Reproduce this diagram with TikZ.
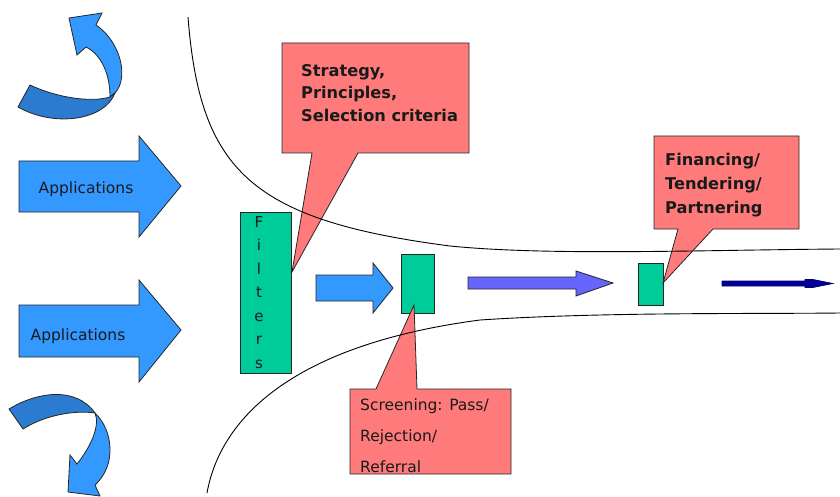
\documentclass[tikz,border=0pt]{standalone}
\usepackage{fontspec}
\setmainfont{DejaVu Sans}
\definecolor{lblue}{HTML}{3399FF}
\definecolor{dblue}{HTML}{2B7BD0}
\definecolor{fgreen}{HTML}{00CC99}
\definecolor{callred}{HTML}{FF7B7B}
\definecolor{purp}{HTML}{6666FF}
\definecolor{navy}{HTML}{000099}
\definecolor{txt}{HTML}{1A1A1A}
\tikzset{
  outl/.style={draw=black!85, line width=0.8pt, line join=miter},
  greenbox/.style={outl, fill=fgreen, rectangle, inner sep=0pt},
  callout/.style={outl, fill=callred},
  blockarrow/.style={outl, fill=lblue},
  boldtxt/.style={anchor=north west, inner sep=0pt, align=left, text=txt, font=\bfseries\fontsize{16.2}{22.5}\selectfont},
  plaintxt/.style={inner sep=0pt, text=txt, font=\fontsize{15.5}{18}\selectfont},
  curve/.style={draw=black, line width=0.9pt}
}
\begin{document}
\begin{tikzpicture}[x=1pt,y=-1pt]
\useasboundingbox (0,0) rectangle (840,497);

% curly arrow top
\draw[outl, fill=lblue] (69,18) -- (102,13) -- (96,25) .. controls (121,42) and (129,78) .. (115,93) -- (110,97) .. controls (110,75) and (102,55) .. (86,47) -- (77,55) -- cycle;
\draw[outl, fill=dblue] (30,85) .. controls (55,97) and (90,103) .. (110,97) -- (115,93) .. controls (105,120) and (55,128) .. (18,107) -- cycle;

% curly arrow bottom
\draw[outl, fill=lblue] (95,413) .. controls (113,430) and (117,465) .. (95,485) -- (100,496) -- (68,492) -- (70,455) -- (77,464) .. controls (92,445) and (100,425) .. (95,413) -- cycle;
\draw[outl, fill=dblue] (9,409) .. controls (35,393) and (75,385) .. (95,413) .. controls (75,410) and (45,415) .. (23,429) -- cycle;

% big arrows
\draw[blockarrow] (19,161) -- (139,161) -- (139,136) -- (181,186) -- (139,237) -- (139,212) -- (19,212) -- cycle;
\draw[blockarrow] (19,305) -- (139,305) -- (139,280) -- (181,330) -- (139,382) -- (139,357) -- (19,357) -- cycle;
\node[plaintxt] (app1) at (86,189) {Applications};
\node[plaintxt] (app2) at (78,336) {Applications};

% green boxes
\node[greenbox, minimum width=51pt, minimum height=161pt] (filters) at (265.5,292.5) {};
\node[anchor=north, align=center, inner sep=0pt, text=txt, font=\fontsize{15}{23.5}\selectfont] (filterstxt) at (259,216) {F\\i\\l\\t\\e\\r\\s};
\node[greenbox, minimum width=33pt, minimum height=59pt] (screenbox) at (417.5,283.5) {};
\node[greenbox, minimum width=25pt, minimum height=42pt] (finbox) at (650.5,284) {};

% flow arrows
\draw[blockarrow] (316,275) -- (373,275) -- (373,263) -- (393,288) -- (373,313) -- (373,301) -- (316,301) -- cycle;
\draw[outl, fill=purp] (468,277) -- (576,277) -- (576,271) -- (613,283) -- (576,296) -- (576,289) -- (468,289) -- cycle;
\draw[draw=navy!70!black, line width=0.6pt, fill=navy] (722,281) -- (805,281) -- (805,279.5) -- (813,279.5) -- (833,283.5) -- (813,287.5) -- (805,287.5) -- (805,286) -- (722,286) -- cycle;

% callouts
\draw[callout] (282,43) -- (469,43) -- (469,153) -- (358,153) -- (292,272) -- (312,153) -- (282,153) -- cycle;
\node[boldtxt] (strat) at (301,64) {Strategy,\\Principles,\\Selection criteria};

\draw[callout] (654,136) -- (799,136) -- (799,229) -- (713,229) -- (663,283) -- (678,229) -- (654,229) -- cycle;
\node[boldtxt, font=\bfseries\fontsize{16.2}{24}\selectfont] (fin) at (665,153) {Financing/\\Tendering/\\Partnering};

\draw[callout] (350,389) -- (376,389) -- (414,305) -- (417,389) -- (511,389) -- (511,474) -- (350,474) -- cycle;
\node[anchor=north west, inner sep=0pt, align=left, text=txt, font=\fontsize{15.5}{31}\selectfont] (screen) at (360,399) {Screening: Pass/\\Rejection/\\Referral};

% funnel curves
\draw[curve] (188,17) .. controls (200,170) and (250,220) .. (450,246) .. controls (550,256) and (700,250) .. (840,249);
\draw[curve] (207,493) .. controls (220,420) and (290,345) .. (480,320) .. controls (600,312) and (750,314) .. (840,313);
\end{tikzpicture}
\end{document}
